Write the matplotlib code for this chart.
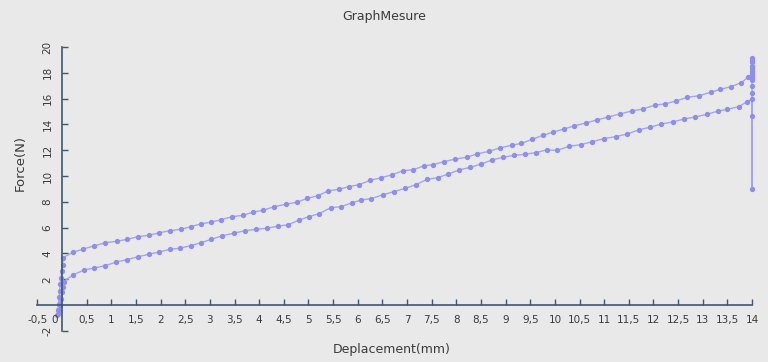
import matplotlib.pyplot as plt

# force / displacement readings (mm, N)
load_x = [-0.10, -0.09, -0.07, -0.06, -0.05, -0.04, -0.02, -0.01, 0.01]
load_f = [-0.8, -0.4, 0.1, 0.6, 1.1, 1.6, 2.1, 2.6, 3.1]

upper_x = [0.02, 0.22, 0.43, 0.64, 0.88, 1.11, 1.32, 1.55, 1.76, 1.97,
           2.19, 2.41, 2.61, 2.81, 3.03, 3.23, 3.45, 3.67, 3.87, 4.08,
           4.30, 4.54, 4.76, 4.98, 5.19, 5.40, 5.61, 5.82, 6.03, 6.25,
           6.47, 6.70, 6.92, 7.13, 7.34, 7.53, 7.75, 7.98, 8.21, 8.42,
           8.66, 8.88, 9.12, 9.32, 9.54, 9.76, 9.97, 10.19, 10.39, 10.63,
           10.85, 11.08, 11.32, 11.56, 11.79, 12.03, 12.23, 12.45, 12.69, 12.92,
           13.16, 13.36, 13.57, 13.78, 13.92]
upper_f = [3.67, 4.08, 4.34, 4.57, 4.83, 4.94, 5.09, 5.30, 5.40, 5.60,
           5.76, 5.87, 6.07, 6.28, 6.43, 6.61, 6.85, 6.95, 7.19, 7.34,
           7.62, 7.81, 7.96, 8.27, 8.47, 8.84, 8.97, 9.17, 9.33, 9.66,
           9.86, 10.10, 10.41, 10.49, 10.78, 10.88, 11.11, 11.32, 11.45, 11.71,
           11.91, 12.17, 12.38, 12.53, 12.84, 13.16, 13.41, 13.65, 13.88, 14.11,
           14.34, 14.57, 14.81, 15.04, 15.19, 15.50, 15.58, 15.81, 16.10, 16.22,
           16.49, 16.72, 16.92, 17.23, 17.65]

# points at the end of the stroke (x = 14)
end_x = 14.0
end_f = [17.75, 17.96, 18.16, 18.35, 18.53, 18.86, 19.0, 19.12,
         17.57, 17.44, 16.98, 16.46, 8.97, 14.65, 15.95]

lower_x = [0.03, 0.23, 0.45, 0.65, 0.88, 1.10, 1.31, 1.54, 1.76, 1.97,
           2.19, 2.39, 2.61, 2.81, 3.03, 3.25, 3.48, 3.71, 3.94, 4.16,
           4.39, 4.59, 4.80, 5.01, 5.22, 5.45, 5.65, 5.88, 6.07, 6.27,
           6.52, 6.73, 6.96, 7.18, 7.41, 7.62, 7.84, 8.06, 8.28, 8.51,
           8.72, 8.95, 9.17, 9.39, 9.61, 9.83, 10.05, 10.29, 10.53, 10.76,
           10.99, 11.23, 11.47, 11.70, 11.93, 12.16, 12.40, 12.62, 12.84, 13.08,
           13.30, 13.50, 13.73, 13.90]
lower_f = [1.81, 2.35, 2.71, 2.87, 3.05, 3.33, 3.51, 3.74, 3.93, 4.11,
           4.32, 4.40, 4.60, 4.82, 5.09, 5.37, 5.56, 5.76, 5.87, 5.95,
           6.12, 6.22, 6.57, 6.85, 7.08, 7.54, 7.62, 7.91, 8.14, 8.24,
           8.55, 8.78, 9.04, 9.33, 9.74, 9.87, 10.16, 10.47, 10.67, 10.93,
           11.24, 11.45, 11.60, 11.68, 11.81, 12.02, 11.99, 12.30, 12.43, 12.66,
           12.89, 13.05, 13.26, 13.57, 13.78, 14.03, 14.19, 14.42, 14.57, 14.78,
           15.02, 15.17, 15.37, 15.76]

unload_x = [0.02, 0.0, -0.02, -0.04, -0.06, -0.08]
unload_f = [1.4, 1.0, 0.5, 0.0, -0.4, -0.7]

xticks = [-0.5, 0.5, 1, 1.5, 2, 2.5, 3, 3.5, 4, 4.5, 5, 5.5, 6, 6.5, 7,
          7.5, 8, 8.5, 9, 9.5, 10, 10.5, 11, 11.5, 12, 12.5, 13, 13.5, 14]
yticks = [-2, 2, 4, 6, 8, 10, 12, 14, 16, 18, 20]

# full path in measurement order
X = load_x + upper_x + [end_x] * len(end_f) + lower_x[::-1] + unload_x
Y = load_f + upper_f + end_f + lower_f[::-1] + unload_f

bg = '#e9e9e9'
axcol = '#3f5670'
txtcol = '#3a3a3a'

fig = plt.figure(figsize=(7.68, 3.62), dpi=100, facecolor=bg)
ax = fig.add_axes([0.0487, 0.0862, 0.9305, 0.784], facecolor=bg)

ax.plot(X, Y, color='#a4a4f2', lw=1.0, marker='o', markersize=2.8,
        markerfacecolor='#8e8eee', markeredgecolor='#8e8eee', clip_on=False)

ax.set_xlim(-0.5, 14)
ax.set_ylim(-2, 20)

for s in ['top', 'right']:
    ax.spines[s].set_visible(False)
ax.spines['left'].set_position(('data', 0))
ax.spines['bottom'].set_position(('data', 0))
for s in ['left', 'bottom']:
    ax.spines[s].set_color(axcol)
    ax.spines[s].set_linewidth(1.2)

ax.set_xticks(xticks)
ax.set_xticklabels([('%g' % v).replace('.', ',') for v in xticks])
ax.set_yticks(yticks)
ax.set_yticklabels(['%g' % v for v in yticks], rotation=90, va='center')
ax.tick_params(axis='both', direction='in', length=4, width=1, color=axcol,
               labelsize=7.5, labelcolor=txtcol, pad=7)
ax.text(-0.16, -0.75, '0', fontsize=7.5, color=txtcol, ha='center', va='top')

fig.text(0.5, 0.955, 'GraphMesure', ha='center', va='center', fontsize=9, color=txtcol)
fig.text(0.51, 0.035, 'Deplacement(mm)', ha='center', va='center', fontsize=9, color=txtcol)
fig.text(0.026, 0.55, 'Force(N)', ha='center', va='center', rotation=90, fontsize=9.5, color=txtcol)

fig.savefig('out.png', dpi=100, facecolor=bg)
